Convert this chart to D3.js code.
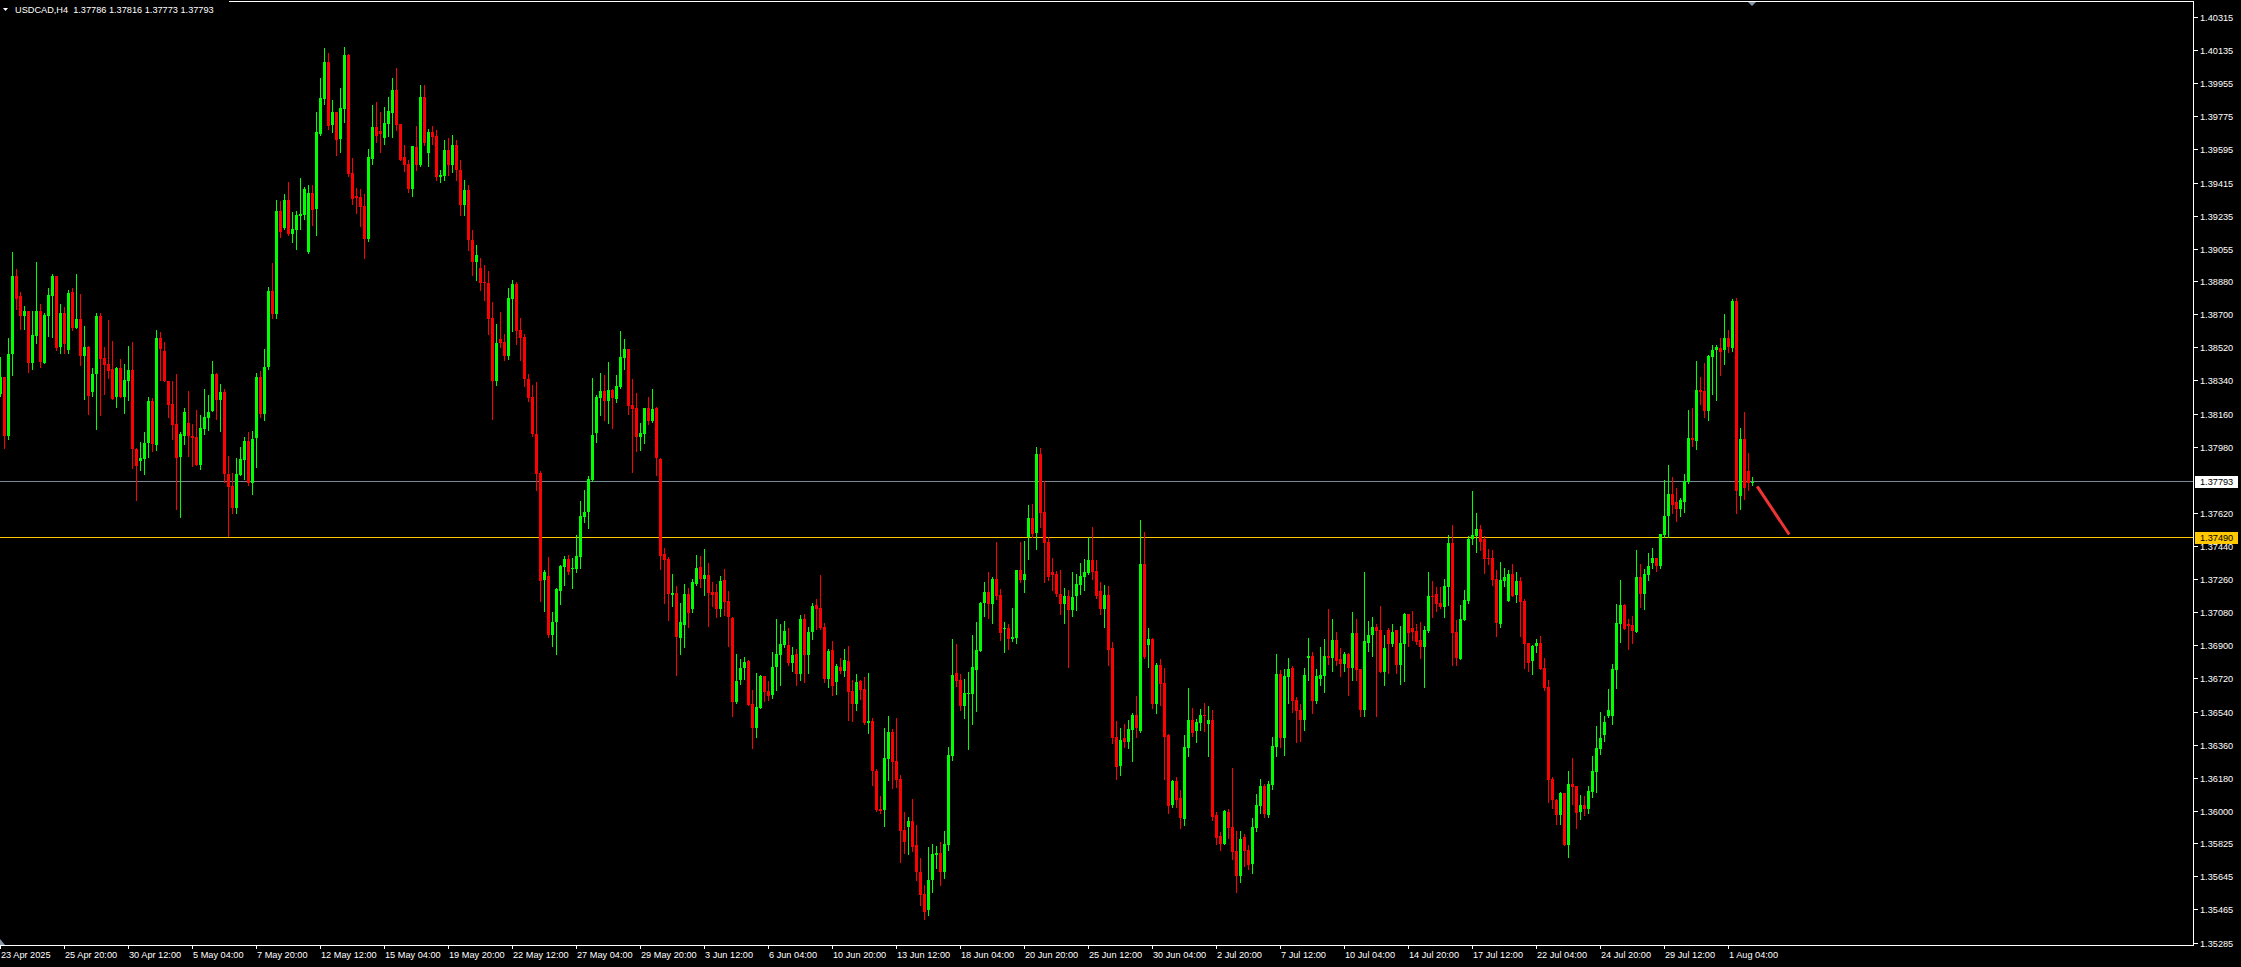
<!DOCTYPE html>
<html><head><meta charset="utf-8">
<script src="https://cdn.jsdelivr.net/npm/d3@7"></script>
<style>
html,body{margin:0;padding:0;background:#000;overflow:hidden}
svg{display:block}
text{font-family:"Liberation Sans",Arial,sans-serif;font-size:9.2px;fill:#fff}
</style></head><body>
<svg id="chart" width="2241" height="967"></svg>
<script>
const symbol = "USDCAD,H4";
const opens = [
1.38269,1.38361,1.38042,1.38486,1.38910,1.38801,1.38693,1.38720,1.38437,1.38586,
1.38720,1.38437,1.38693,1.38801,1.38910,1.38526,1.38709,1.38508,1.38823,1.38627,
1.38676,1.38477,1.38524,1.38281,1.38377,1.38693,1.38464,1.38432,1.38405,1.38254,
1.38410,1.38254,1.38341,1.38399,1.37970,1.37906,1.37917,1.38002,1.38231,1.37991,
1.38575,1.38502,1.38339,1.38214,1.38106,1.37928,1.38042,1.38111,1.38042,1.38035,
1.37884,1.38078,1.38140,1.38176,1.38377,1.38238,1.38281,1.37835,1.37770,1.37649,
1.37828,1.37910,1.38013,1.37785,1.38031,1.38363,1.38162,1.38415,1.38828,1.38703,
1.39263,1.39171,1.39323,1.39138,1.39160,1.39236,1.39242,1.39040,1.39361,1.39274,
1.39682,1.39872,1.40073,1.39731,1.39801,1.39655,1.39818,1.40111,1.39470,1.39345,
1.39339,1.39290,1.39111,1.39546,1.39720,1.39698,1.39660,1.39736,1.39796,1.39921,
1.39736,1.39557,1.39519,1.39383,1.39611,1.39513,1.39883,1.39578,1.39693,1.39671,
1.39448,1.39453,1.39595,1.39513,1.39622,1.39486,1.39296,1.39377,1.39106,1.38986,
1.38953,1.38877,1.38872,1.38682,1.38339,1.38568,1.38551,1.38475,1.38785,1.38867,
1.38616,1.38578,1.38350,1.38252,1.38051,1.37839,1.37258,1.37279,1.36959,1.37029,
1.37198,1.37328,1.37372,1.37318,1.37318,1.37383,1.37600,1.37627,1.37801,1.38057,
1.38247,1.38285,1.38231,1.38290,1.38241,1.38307,1.38464,1.38513,1.38209,1.38193,
1.38035,1.38051,1.38193,1.38122,1.38193,1.37915,1.37399,1.37372,1.37176,1.37187,
1.36943,1.37013,1.37182,1.37100,1.37236,1.37328,1.37263,1.37285,1.37193,1.37193,
1.37100,1.37258,1.37144,1.37051,1.36595,1.36714,1.36779,1.36818,1.36584,1.36453,
1.36562,1.36736,1.36654,1.36633,1.36785,1.36850,1.36904,1.36904,1.36807,1.36856,
1.36747,1.37046,1.36850,1.36975,1.37122,1.37106,1.37002,1.36720,1.36877,1.36703,
1.36785,1.36763,1.36818,1.36654,1.36584,1.36709,1.36665,1.36481,1.36491,1.36220,
1.36013,1.36008,1.36285,1.36432,1.36274,1.36176,1.35899,1.35915,1.35948,1.35817,
1.35671,1.35551,1.35464,1.35627,1.35763,1.35774,1.35671,1.35817,1.36301,1.36752,
1.36714,1.36573,1.36638,1.36638,1.36769,1.36872,1.37133,1.37193,1.37127,1.37263,
1.37176,1.36991,1.36997,1.36937,1.36943,1.37312,1.37258,1.37491,1.37595,1.37513,
1.37943,1.37627,1.37464,1.37301,1.37290,1.37182,1.37127,1.37171,1.37095,1.37171,
1.37231,1.37274,1.37296,1.37366,1.37307,1.37198,1.37100,1.37176,1.36888,1.36404,
1.36247,1.36399,1.36377,1.36442,1.36524,1.36437,1.37345,1.36904,1.36937,1.36584,
1.36796,1.36698,1.36415,1.36035,1.36165,1.36073,1.35959,1.36345,1.36497,1.36437,
1.36481,1.36524,1.36475,1.36497,1.35981,1.35866,1.35823,1.35997,1.35915,1.35785,
1.35649,1.35861,1.35790,1.35714,1.35910,1.36029,1.36138,1.35981,1.36144,1.36350,
1.36747,1.36399,1.36731,1.36779,1.36606,1.36551,1.36497,1.36834,1.36845,1.36600,
1.36720,1.36736,1.36845,1.36834,1.36932,1.36828,1.36801,1.36856,1.36779,1.36970,
1.36774,1.36551,1.36915,1.36959,1.37002,1.36986,1.36758,1.36986,1.36910,1.36986,
1.36796,1.36910,1.37073,1.36997,1.36981,1.36932,1.36894,1.36981,1.37171,1.37182,
1.37133,1.37111,1.37220,1.37459,1.36975,1.36828,1.37040,1.37144,1.37481,1.37497,
1.37535,1.37481,1.37377,1.37377,1.37263,1.37019,1.37252,1.37144,1.37290,1.37176,
1.37252,1.37144,1.36915,1.36818,1.36899,1.36915,1.36779,1.36676,1.36176,1.36062,
1.35982,1.36098,1.35816,1.36149,1.36140,1.35998,1.36033,1.36013,1.36106,1.36215,
1.36339,1.36415,1.36519,1.36519,1.36769,1.37019,1.37122,1.37019,1.37013,1.36976,
1.37274,1.37184,1.37287,1.37352,1.37377,1.37334,1.37504,1.37606,1.37725,1.37682,
1.37644,1.37682,1.37790,1.38032,1.38013,1.38290,1.38285,1.38176,1.38470,1.38508,
1.38519,1.38508,1.38573,1.38519,1.38774,1.37714,1.38024,1.37850,1.37786];
const highs = [
1.38471,1.38361,1.38573,1.39040,1.38948,1.38823,1.38747,1.38720,1.38720,1.38986,
1.38758,1.38709,1.38845,1.38922,1.38910,1.38758,1.38742,1.38834,1.38845,1.38921,
1.38812,1.38638,1.38530,1.38410,1.38709,1.38709,1.38526,1.38671,1.38557,1.38417,
1.38459,1.38432,1.38530,1.38551,1.37977,1.38008,1.38062,1.38252,1.38247,1.38616,
1.38606,1.38551,1.38339,1.38339,1.38377,1.38062,1.38193,1.38285,1.38106,1.38182,
1.38155,1.38296,1.38263,1.38448,1.38383,1.38323,1.38296,1.37932,1.37838,1.37921,
1.37982,1.38037,1.38064,1.38068,1.38384,1.38394,1.38515,1.38850,1.38981,1.39323,
1.39318,1.39356,1.39421,1.39258,1.39263,1.39443,1.39394,1.39405,1.39405,1.39801,
1.39986,1.40149,1.40122,1.39867,1.39801,1.39932,1.40155,1.40117,1.39551,1.39388,
1.39383,1.39356,1.39600,1.39839,1.39856,1.39801,1.39829,1.39883,1.39986,1.40040,
1.39736,1.39622,1.39540,1.39617,1.39725,1.39948,1.39948,1.39709,1.39725,1.39703,
1.39486,1.39649,1.39660,1.39676,1.39649,1.39540,1.39432,1.39405,1.39160,1.39078,
1.39008,1.38970,1.38937,1.38769,1.38649,1.38714,1.38595,1.38845,1.38888,1.38877,
1.38682,1.38595,1.38377,1.38318,1.38334,1.37850,1.37312,1.37383,1.37084,1.37214,
1.37339,1.37388,1.37394,1.37377,1.37502,1.37687,1.37747,1.37823,1.38356,1.38263,
1.38383,1.38372,1.38443,1.38296,1.38372,1.38611,1.38568,1.38513,1.38350,1.38274,
1.38111,1.38193,1.38252,1.38296,1.38198,1.37921,1.37432,1.37383,1.37290,1.37225,
1.37133,1.37236,1.37214,1.37263,1.37394,1.37388,1.37426,1.37350,1.37247,1.37236,
1.37279,1.37318,1.37198,1.37057,1.36856,1.36828,1.36839,1.36823,1.36660,1.36752,
1.36741,1.36736,1.36709,1.36866,1.37046,1.37019,1.37035,1.36997,1.36894,1.36883,
1.37068,1.37073,1.37002,1.37133,1.37154,1.37285,1.37024,1.36883,1.36926,1.36801,
1.36834,1.36883,1.36899,1.36714,1.36747,1.36714,1.36731,1.36752,1.36508,1.36231,
1.36084,1.36453,1.36519,1.36448,1.36508,1.36198,1.35997,1.35970,1.36067,1.35926,
1.35747,1.35600,1.35807,1.35823,1.35812,1.35834,1.35894,1.36350,1.36937,1.36910,
1.36747,1.36720,1.36758,1.36959,1.37029,1.37138,1.37247,1.37301,1.37274,1.37464,
1.37209,1.37029,1.37019,1.37106,1.37312,1.37464,1.37470,1.37665,1.37671,1.37981,
1.37975,1.37796,1.37491,1.37377,1.37307,1.37312,1.37214,1.37203,1.37301,1.37290,
1.37350,1.37372,1.37491,1.37546,1.37366,1.37247,1.37231,1.37225,1.36921,1.36491,
1.36453,1.36475,1.36497,1.36535,1.36627,1.37584,1.37519,1.36997,1.36943,1.36807,
1.36828,1.36779,1.36421,1.36171,1.36187,1.36116,1.36415,1.36671,1.36562,1.36502,
1.36557,1.36589,1.36573,1.36551,1.35997,1.35888,1.36008,1.36013,1.36236,1.35894,
1.35894,1.35877,1.35817,1.35964,1.36095,1.36176,1.36149,1.36165,1.36404,1.36856,
1.36769,1.36774,1.36834,1.36790,1.36622,1.36584,1.36779,1.36943,1.36866,1.36774,
1.36894,1.36937,1.37100,1.37046,1.36975,1.36888,1.36866,1.36861,1.37084,1.37046,
1.36774,1.37301,1.37035,1.37057,1.37019,1.37116,1.36959,1.36997,1.37019,1.36986,
1.37008,1.37078,1.37073,1.37089,1.37019,1.37029,1.37008,1.37301,1.37252,1.37220,
1.37220,1.37263,1.37502,1.37557,1.37040,1.37122,1.37203,1.37497,1.37741,1.37622,
1.37557,1.37497,1.37426,1.37421,1.37312,1.37356,1.37323,1.37312,1.37345,1.37301,
1.37274,1.37154,1.36915,1.36904,1.36937,1.36951,1.36834,1.36714,1.36187,1.36067,
1.36106,1.36100,1.36220,1.36290,1.36140,1.36089,1.36085,1.36140,1.36302,1.36464,
1.36543,1.36519,1.36665,1.36801,1.37127,1.37258,1.37127,1.37046,1.37062,1.37421,
1.37345,1.37318,1.37404,1.37432,1.37377,1.37510,1.37801,1.37883,1.37820,1.37758,
1.37703,1.37834,1.38182,1.38190,1.38448,1.38361,1.38437,1.38482,1.38535,1.38535,
1.38573,1.38703,1.38616,1.38785,1.38790,1.38084,1.38171,1.37948,1.37816];
const lows = [
1.38259,1.37977,1.38026,1.38374,1.38731,1.38624,1.38624,1.38390,1.38406,1.38544,
1.38417,1.38437,1.38586,1.38580,1.38508,1.38493,1.38493,1.38493,1.38618,1.38627,
1.38428,1.38243,1.38162,1.38259,1.38080,1.38156,1.38270,1.38357,1.38243,1.38200,
1.38254,1.38167,1.38238,1.37868,1.37694,1.37857,1.37835,1.37928,1.37960,1.37966,
1.38346,1.38341,1.38145,1.38026,1.37645,1.37599,1.37999,1.37933,1.37879,1.37884,
1.37863,1.38053,1.38075,1.38176,1.38134,1.38069,1.37792,1.37499,1.37624,1.37624,
1.37828,1.37808,1.37774,1.37727,1.37874,1.38145,1.38129,1.38406,1.38683,1.38683,
1.39122,1.39165,1.39133,1.39095,1.39057,1.39165,1.39220,1.39035,1.39187,1.39133,
1.39676,1.39845,1.39709,1.39693,1.39568,1.39584,1.39747,1.39453,1.39301,1.39252,
1.39182,1.39008,1.39100,1.39519,1.39638,1.39584,1.39627,1.39671,1.39665,1.39703,
1.39540,1.39481,1.39367,1.39345,1.39486,1.39508,1.39622,1.39508,1.39627,1.39432,
1.39421,1.39432,1.39459,1.39475,1.39432,1.39242,1.39242,1.39051,1.38915,1.38888,
1.38836,1.38780,1.38595,1.38133,1.38318,1.38524,1.38453,1.38459,1.38611,1.38540,
1.38453,1.38312,1.38231,1.38040,1.37747,1.37144,1.37089,1.36948,1.36899,1.36856,
1.37127,1.37231,1.37290,1.37214,1.37301,1.37323,1.37573,1.37540,1.37796,1.38008,
1.38155,1.38127,1.38111,1.38084,1.38225,1.38301,1.38405,1.38160,1.37845,1.37959,
1.37964,1.38002,1.38106,1.38116,1.37828,1.37318,1.37133,1.37040,1.37116,1.36741,
1.36856,1.36894,1.37002,1.37084,1.37231,1.37220,1.37176,1.37008,1.37116,1.37057,
1.37062,1.37068,1.36899,1.36519,1.36589,1.36693,1.36720,1.36578,1.36345,1.36404,
1.36562,1.36600,1.36606,1.36616,1.36660,1.36687,1.36894,1.36796,1.36763,1.36687,
1.36714,1.36703,1.36752,1.36937,1.36991,1.36991,1.36703,1.36676,1.36633,1.36638,
1.36752,1.36736,1.36497,1.36491,1.36551,1.36611,1.36475,1.36426,1.36144,1.36002,
1.35991,1.35921,1.36171,1.36127,1.36133,1.35725,1.35774,1.35769,1.35785,1.35627,
1.35491,1.35415,1.35437,1.35562,1.35692,1.35600,1.35638,1.35790,1.36279,1.36682,
1.36551,1.36508,1.36339,1.36475,1.36546,1.36872,1.37062,1.37051,1.37024,1.37154,
1.36932,1.36866,1.36883,1.36926,1.36915,1.37247,1.37193,1.37372,1.37491,1.37426,
1.37546,1.37247,1.37258,1.37203,1.37171,1.37073,1.37024,1.36785,1.37062,1.37095,
1.37182,1.37203,1.37290,1.37263,1.37160,1.37073,1.37002,1.36796,1.36372,1.36176,
1.36198,1.36350,1.36345,1.36274,1.36404,1.36432,1.36834,1.36785,1.36562,1.36535,
1.36578,1.36176,1.35991,1.36024,1.36024,1.35910,1.35926,1.36301,1.36410,1.36377,
1.36442,1.36437,1.36301,1.35953,1.35823,1.35790,1.35823,1.35856,1.35741,1.35562,
1.35616,1.35703,1.35687,1.35665,1.35894,1.35991,1.35970,1.35970,1.36122,1.36301,
1.36350,1.36307,1.36589,1.36540,1.36377,1.36383,1.36442,1.36714,1.36535,1.36589,
1.36687,1.36649,1.36801,1.36763,1.36796,1.36736,1.36763,1.36633,1.36714,1.36714,
1.36519,1.36519,1.36872,1.36845,1.36519,1.36758,1.36687,1.36752,1.36899,1.36752,
1.36693,1.36709,1.36899,1.36932,1.36910,1.36834,1.36676,1.36975,1.37057,1.37089,
1.37106,1.37057,1.37122,1.36796,1.36796,1.36828,1.37040,1.37133,1.37453,1.37410,
1.37421,1.37296,1.37345,1.37231,1.36953,1.37002,1.37225,1.37144,1.37171,1.37138,
1.36953,1.36779,1.36763,1.36747,1.36866,1.36772,1.36660,1.36053,1.36019,1.35933,
1.35933,1.35816,1.35752,1.36038,1.35911,1.35959,1.35982,1.35990,1.36077,1.36106,
1.36314,1.36383,1.36515,1.36476,1.36671,1.36923,1.36991,1.36883,1.36917,1.36976,
1.37111,1.37100,1.37259,1.37323,1.37307,1.37323,1.37490,1.37490,1.37622,1.37581,
1.37606,1.37628,1.37787,1.37988,1.37970,1.38215,1.38142,1.38127,1.38269,1.38236,
1.38372,1.38432,1.38497,1.38504,1.37622,1.37644,1.37698,1.37749,1.37773];
const closes = [
1.38363,1.38042,1.38486,1.38910,1.38787,1.38693,1.38720,1.38437,1.38589,1.38720,
1.38443,1.38698,1.38807,1.38910,1.38520,1.38709,1.38542,1.38818,1.38627,1.38676,
1.38477,1.38524,1.38259,1.38377,1.38693,1.38461,1.38426,1.38394,1.38243,1.38412,
1.38254,1.38345,1.38399,1.37971,1.37879,1.37921,1.38002,1.38231,1.37995,1.38575,
1.38515,1.38341,1.38211,1.38102,1.37922,1.38051,1.38171,1.38042,1.38031,1.37884,
1.38084,1.38144,1.38171,1.38377,1.38238,1.38280,1.37835,1.37763,1.37649,1.37834,
1.37915,1.38013,1.37783,1.38024,1.38363,1.38162,1.38415,1.38828,1.38703,1.39263,
1.39149,1.39323,1.39138,1.39165,1.39242,1.39247,1.39383,1.39361,1.39269,1.39693,
1.39877,1.40073,1.39725,1.39801,1.39649,1.39823,1.40111,1.39464,1.39328,1.39334,
1.39285,1.39111,1.39557,1.39720,1.39671,1.39682,1.39742,1.39807,1.39921,1.39731,
1.39540,1.39513,1.39383,1.39617,1.39513,1.39883,1.39633,1.39693,1.39665,1.39448,
1.39459,1.39595,1.39513,1.39622,1.39486,1.39296,1.39377,1.39106,1.38986,1.39024,
1.38874,1.38872,1.38676,1.38339,1.38546,1.38546,1.38475,1.38790,1.38867,1.38611,
1.38573,1.38350,1.38247,1.38051,1.37834,1.37252,1.37301,1.36959,1.37029,1.37209,
1.37334,1.37372,1.37301,1.37323,1.37388,1.37606,1.37627,1.37807,1.38046,1.38252,
1.38285,1.38231,1.38290,1.38247,1.38312,1.38470,1.38513,1.38203,1.38187,1.38035,
1.38057,1.38193,1.38122,1.38187,1.37921,1.37388,1.37366,1.37182,1.37187,1.36948,
1.37029,1.37182,1.37078,1.37247,1.37323,1.37263,1.37285,1.37187,1.37176,1.37100,
1.37252,1.37138,1.37057,1.36595,1.36709,1.36779,1.36812,1.36578,1.36453,1.36568,
1.36736,1.36649,1.36627,1.36785,1.36856,1.36910,1.36981,1.36807,1.36850,1.36747,
1.37046,1.36850,1.36975,1.37116,1.37100,1.36997,1.36720,1.36872,1.36682,1.36790,
1.36763,1.36823,1.36649,1.36584,1.36703,1.36660,1.36481,1.36491,1.36220,1.36008,
1.36002,1.36290,1.36432,1.36269,1.36171,1.35894,1.35834,1.35948,1.35807,1.35671,
1.35546,1.35453,1.35627,1.35769,1.35774,1.35671,1.35823,1.36307,1.36741,1.36709,
1.36573,1.36644,1.36644,1.36785,1.36877,1.37133,1.37193,1.37127,1.37263,1.37171,
1.36970,1.36997,1.36937,1.36948,1.37312,1.37258,1.37290,1.37595,1.37508,1.37943,
1.37622,1.37459,1.37274,1.37285,1.37182,1.37127,1.37171,1.37095,1.37165,1.37236,
1.37279,1.37301,1.37366,1.37301,1.37171,1.37100,1.37176,1.36877,1.36399,1.36241,
1.36388,1.36377,1.36448,1.36524,1.36453,1.37345,1.36839,1.36937,1.36584,1.36796,
1.36693,1.36404,1.36029,1.36165,1.36062,1.35964,1.36350,1.36497,1.36426,1.36486,
1.36524,1.36519,1.36497,1.35970,1.35856,1.35823,1.36002,1.35910,1.35779,1.35649,
1.35850,1.35785,1.35709,1.35915,1.36035,1.36138,1.35986,1.36149,1.36356,1.36747,
1.36399,1.36736,1.36774,1.36600,1.36546,1.36497,1.36741,1.36845,1.36600,1.36736,
1.36741,1.36845,1.36834,1.36932,1.36818,1.36801,1.36856,1.36779,1.36970,1.36769,
1.36551,1.36926,1.36959,1.37002,1.36981,1.36758,1.36888,1.36910,1.36975,1.36796,
1.36915,1.37073,1.36970,1.36975,1.36921,1.36894,1.36986,1.37171,1.37165,1.37127,
1.37111,1.37225,1.37459,1.36970,1.36834,1.37046,1.37149,1.37481,1.37502,1.37535,
1.37464,1.37372,1.37372,1.37258,1.37024,1.37258,1.37274,1.37290,1.37171,1.37252,
1.37138,1.36910,1.36807,1.36899,1.36915,1.36772,1.36671,1.36171,1.36062,1.35982,
1.36098,1.35816,1.36149,1.36133,1.35990,1.36033,1.36013,1.36111,1.36220,1.36344,
1.36399,1.36486,1.36552,1.36772,1.37024,1.37122,1.36991,1.37008,1.36982,1.37274,
1.37184,1.37293,1.37334,1.37377,1.37334,1.37510,1.37606,1.37725,1.37665,1.37644,
1.37693,1.37794,1.38032,1.38019,1.38290,1.38280,1.38176,1.38476,1.38508,1.38524,
1.38497,1.38573,1.38524,1.38774,1.37741,1.38024,1.37758,1.37785,1.37793];

const timeLabels = ["23 Apr 2025","25 Apr 20:00","30 Apr 12:00","5 May 04:00","7 May 20:00","12 May 12:00","15 May 04:00","19 May 20:00","22 May 12:00","27 May 04:00","29 May 20:00","3 Jun 12:00","6 Jun 04:00","10 Jun 20:00","13 Jun 12:00","18 Jun 04:00","20 Jun 20:00","25 Jun 12:00","30 Jun 04:00","2 Jul 20:00","7 Jul 12:00","10 Jul 04:00","14 Jul 20:00","17 Jul 12:00","22 Jul 04:00","24 Jul 20:00","29 Jul 12:00","1 Aug 04:00"];
const barsPerTimeLabel = 16;
const priceTicks = [1.40315,1.40135,1.39955,1.39775,1.39595,1.39415,1.39235,1.39055,1.38880,1.38700,1.38520,1.38340,1.38160,1.37980,1.37620,1.37440,1.37260,1.37080,1.36900,1.36720,1.36540,1.36360,1.36180,1.36000,1.35825,1.35645,1.35465,1.35285];
const bidPrice = 1.37793;
const levelPrice = 1.37490;
const arrowBars = [439.3, 447.3];
const arrowPrices = [1.37767, 1.37505];

const W = 2241, H = 967;
const plotRight = 2193, plotBottom = 945;
const UP = "#00ff00", DOWN = "#ff0000", GOLD = "#ffc800", BIDC = "#778899";

const n = Math.min(opens.length, highs.length, lows.length, closes.length);
const bars = d3.range(n).map(i => ({i, o: opens[i], h: highs[i], l: lows[i], c: closes[i]}));

const x = d3.scaleLinear().domain([0, 438]).range([0, 1752]);
const y = d3.scaleLinear().domain([1.35271, 1.40410]).range([945.6, 0]);
const py = v => Math.round(y(v));

const svg = d3.select("#chart");
svg.append("rect").attr("width", W).attr("height", H).attr("fill", "#000");
const g = svg.append("g").attr("shape-rendering", "crispEdges");

// horizontal level lines
g.append("rect").attr("x", 0).attr("y", Math.floor(y(levelPrice))).attr("width", plotRight).attr("height", 1).attr("fill", GOLD);
g.append("rect").attr("x", 0).attr("y", Math.floor(y(bidPrice))).attr("width", plotRight).attr("height", 1).attr("fill", BIDC);

// candles
const cg = g.append("g");
cg.selectAll("rect.wick").data(bars).join("rect").attr("class", "wick")
  .attr("x", d => Math.round(x(d.i)))
  .attr("y", d => py(d.h))
  .attr("width", 1)
  .attr("height", d => Math.max(1, py(d.l) - py(d.h) + 1))
  .attr("fill", d => d.c >= d.o ? UP : DOWN);
cg.selectAll("rect.body").data(bars).join("rect").attr("class", "body")
  .attr("x", d => Math.round(x(d.i)) - 1)
  .attr("y", d => py(Math.max(d.o, d.c)))
  .attr("width", 3)
  .attr("height", d => Math.max(1, py(Math.min(d.o, d.c)) - py(Math.max(d.o, d.c))))
  .attr("fill", d => d.c >= d.o ? UP : DOWN);

// drawn trend arrow
svg.append("line")
  .attr("x1", x(arrowBars[0])).attr("y1", y(arrowPrices[0]))
  .attr("x2", x(arrowBars[1])).attr("y2", y(arrowPrices[1]))
  .attr("stroke", "#f03434").attr("stroke-width", 3);

// frame
g.append("rect").attr("x", 0).attr("y", 1).attr("width", plotRight + 1).attr("height", 1).attr("fill", "#fff");
g.append("rect").attr("x", plotRight).attr("y", 1).attr("width", 1).attr("height", plotBottom).attr("fill", "#fff");
g.append("rect").attr("x", 0).attr("y", plotBottom).attr("width", plotRight + 1).attr("height", 1).attr("fill", "#fff");

// price axis
const pa = svg.append("g");
priceTicks.forEach(v => {
  const yy = Math.floor(y(v));
  pa.append("rect").attr("x", plotRight + 1).attr("y", yy).attr("width", 4).attr("height", 1).attr("fill", "#fff").attr("shape-rendering", "crispEdges");
  pa.append("text").attr("x", 2200).attr("y", yy + 3.5).text(v.toFixed(5));
});
function priceBox(v, fill) {
  const yy = Math.floor(y(v));
  pa.append("rect").attr("x", 2195).attr("y", yy - 5).attr("width", 43).attr("height", 12).attr("fill", fill).attr("shape-rendering", "crispEdges");
  pa.append("text").attr("x", 2200).attr("y", yy + 4).style("fill", "#000").text(v.toFixed(5));
}
priceBox(bidPrice, "#ffffff");
priceBox(levelPrice, GOLD);

// time axis
const ta = svg.append("g");
timeLabels.forEach((t, k) => {
  const xx = Math.round(x(k * barsPerTimeLabel));
  ta.append("rect").attr("x", xx).attr("y", plotBottom).attr("width", 1).attr("height", 4).attr("fill", "#fff").attr("shape-rendering", "crispEdges");
  ta.append("text").attr("x", xx + 1).attr("y", 958).text(t);
});
svg.append("polygon").attr("points", "0,939 0,945 5,945").attr("fill", "#8796a8");

// chart shift marker
svg.append("polygon").attr("points", "1748,2 1756,2 1752,6").attr("fill", "#8796a8");

// header
const last = bars[n - 1];
svg.append("rect").attr("x", 0).attr("y", 0).attr("width", 229).attr("height", 16).attr("fill", "#000");
svg.append("polygon").attr("points", "3,8 8,8 5.5,11").attr("fill", "#fff");
svg.append("text").attr("x", 15).attr("y", 13).style("white-space", "pre")
  .text(`${symbol}  ${last.o.toFixed(5)} ${last.h.toFixed(5)} ${last.l.toFixed(5)} ${last.c.toFixed(5)}`);
</script>
</body></html>
